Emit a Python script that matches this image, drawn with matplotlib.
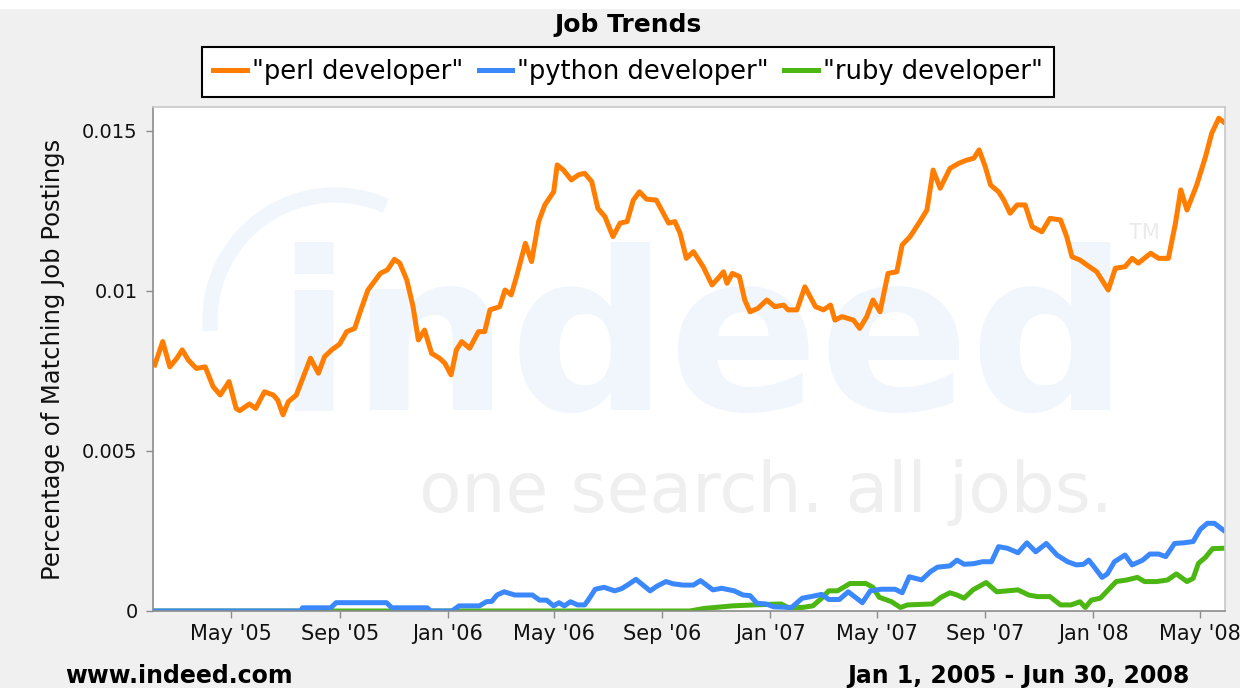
import numpy as np
import pandas as pd
import matplotlib
matplotlib.use('Agg')
import matplotlib.pyplot as plt
import matplotlib.dates as mdates
from matplotlib.patches import Arc, Rectangle
from matplotlib.transforms import IdentityTransform

# x values are days counted from Jan 1, 2005
start = pd.Timestamp('2005-01-01')
view_days = [32, 1244]

perl_days = [34, 43, 51, 59, 65, 72, 81, 91, 100, 108, 118, 126, 130, 141, 148, 158, 168, 173, 179, 185,
             194, 202, 210, 219, 226, 234, 243, 251, 260, 267, 275, 289, 297, 305, 311, 319, 326, 332,
             339, 347, 356, 362, 369, 375, 381, 390, 400, 407, 413, 424, 430, 437, 443, 453, 460, 468,
             475, 485, 489, 496, 505, 513, 520, 528, 535, 543, 552, 560, 568, 575, 582, 590, 601, 609,
             615, 622, 628, 635, 643, 654, 664, 671, 677, 681, 687, 695, 701, 707, 716, 726, 735, 745,
             750, 760, 769, 781, 790, 798, 803, 811, 824, 831, 839, 846, 854, 863, 873, 879, 888, 899,
             907, 914, 922, 933, 943, 952, 960, 966, 973, 979, 988, 994, 1001, 1009, 1018, 1026, 1037,
             1046, 1058, 1065, 1071, 1080, 1088, 1099, 1112, 1120, 1131, 1139, 1146, 1160, 1169, 1180,
             1188, 1194, 1201, 1212, 1222, 1229, 1237, 1242]
perl_vals = [0.00769, 0.00842, 0.00763, 0.00790, 0.00816, 0.00784, 0.00758, 0.00763, 0.00701, 0.00675,
             0.00717, 0.00633, 0.00626, 0.00647, 0.00633, 0.00685, 0.00675, 0.00659, 0.00613, 0.00654,
             0.00675, 0.00732, 0.00790, 0.00743, 0.00795, 0.00816, 0.00834, 0.00873, 0.00883, 0.00941,
             0.01003, 0.01055, 0.01066, 0.01099, 0.01087, 0.01034, 0.00951, 0.00847,
             0.00878, 0.00805, 0.00790, 0.00774, 0.00738, 0.00816, 0.00842, 0.00821, 0.00873, 0.00873,
             0.00941, 0.00951, 0.01003, 0.00988, 0.01045, 0.01149, 0.01092, 0.01217, 0.01269, 0.01310,
             0.01394, 0.01378, 0.01347, 0.01363, 0.01368, 0.01342, 0.01258, 0.01232, 0.01170, 0.01212,
             0.01217, 0.01284, 0.01310, 0.01287, 0.01284, 0.01243, 0.01212, 0.01217, 0.01180, 0.01102,
             0.01123, 0.01076, 0.01019, 0.01040, 0.01060, 0.01024, 0.01055, 0.01045, 0.00972, 0.00935,
             0.00946, 0.00972, 0.00951, 0.00956, 0.00941, 0.00941, 0.01013, 0.00951, 0.00941, 0.00956,
             0.00909, 0.00920, 0.00909, 0.00883, 0.00920, 0.00972, 0.00935, 0.01055, 0.01060, 0.01144,
             0.01170, 0.01217, 0.01253, 0.01378, 0.01321, 0.01383, 0.01399,
             0.01409, 0.01415, 0.01441, 0.01388, 0.01331, 0.01310, 0.01284, 0.01243, 0.01269, 0.01269,
             0.01201, 0.01185, 0.01227, 0.01222, 0.01170, 0.01107, 0.01097, 0.01081, 0.01060, 0.01003,
             0.01071, 0.01076, 0.01102, 0.01087, 0.01118, 0.01102, 0.01102, 0.01212, 0.01316, 0.01253,
             0.01331, 0.01420, 0.01493, 0.01540, 0.01529]

python_days = [32, 199, 201, 233, 239, 296, 302, 342, 346, 370, 378, 401, 409, 415, 421, 429, 441, 461,
               469, 477, 485, 491, 497, 504, 512, 520, 524, 532, 542, 554, 562, 570, 578, 586, 594, 602,
               612, 620, 631, 643, 651, 665, 675, 689, 699, 707, 715, 725, 734, 754, 766, 776, 788, 796,
               808, 818, 826, 834, 843, 855, 871, 879, 887, 901, 911, 919, 933, 941, 949, 960, 970, 980,
               988, 998, 1010, 1020, 1030, 1042, 1054, 1066, 1076, 1084, 1090, 1096, 1105, 1111, 1119,
               1131, 1139, 1151, 1159, 1169, 1177, 1187, 1197, 1208, 1216, 1224, 1232, 1242]
python_vals = [0, 0, 0.0001, 0.0001, 0.00026, 0.00026, 0.0001, 0.0001, 0, 0,
               0.00016, 0.00016, 0.00029, 0.0003, 0.0005, 0.0006, 0.0005, 0.0005, 0.00034, 0.00034,
               0.00016, 0.00026, 0.00016, 0.00029, 0.00019, 0.00019, 0.00034, 0.00068, 0.00074, 0.00063,
               0.0007, 0.00084, 0.00099, 0.00081, 0.00063, 0.00078, 0.00092, 0.00085, 0.00081, 0.00081,
               0.00095, 0.00066, 0.00071, 0.00063, 0.0005, 0.00048, 0.00024, 0.00022, 0.00013, 0.00011,
               0.0004, 0.00045, 0.00052, 0.00036, 0.00036, 0.0006, 0.00043, 0.00026, 0.00063, 0.00068,
               0.00068, 0.00057, 0.00107, 0.00097, 0.00123, 0.00137, 0.00141, 0.00159, 0.00146, 0.00148,
               0.00154, 0.00154, 0.00201, 0.00196, 0.00182, 0.00213, 0.00185, 0.00211, 0.00175, 0.00154,
               0.00144, 0.00146, 0.00159, 0.00138, 0.00105, 0.00116, 0.00154, 0.00175, 0.00144, 0.00159,
               0.00178, 0.00178, 0.0017, 0.00211, 0.00213, 0.00217, 0.00255, 0.00274, 0.00274, 0.00253]

ruby_days = [32, 639, 655, 687, 711, 742, 750, 766, 778, 788, 796, 806, 820, 838, 846, 853, 867, 877,
             885, 913, 923, 933, 941, 949, 959, 974, 986, 998, 1010, 1022, 1032, 1046, 1058, 1070, 1080,
             1086, 1093, 1103, 1111, 1121, 1133, 1145, 1153, 1167, 1179, 1189, 1201, 1208, 1214, 1222,
             1230, 1242]
ruby_vals = [0, 0, 0.00008, 0.00016, 0.00019, 0.00022, 0.00011, 0.00011, 0.00016, 0.0004,
             0.00063, 0.00063, 0.00086, 0.00086, 0.00074, 0.00043, 0.00029, 0.00011, 0.00019, 0.00022,
             0.00043, 0.00057, 0.0005, 0.0004, 0.00066, 0.00089, 0.0006, 0.00063, 0.00066, 0.0005,
             0.00045, 0.00045, 0.00019, 0.00019, 0.00029, 0.00011, 0.00034, 0.0004, 0.00063, 0.00092,
             0.00097, 0.00105, 0.00092, 0.00092, 0.00097, 0.00116, 0.00092, 0.00102, 0.00149, 0.00168,
             0.00195, 0.00196]

labels = ['"perl developer"', '"python developer"', '"ruby developer"']
colors = ['#ff7d00', '#3a88fb', '#4cb712']
y_ticks = [0, 0.005, 0.01, 0.015]


def to_dates(days):
    return start + pd.to_timedelta(days, unit='D')


W, H = 1240, 688
fig = plt.figure(figsize=(W / 100, H / 100), dpi=100, facecolor='#f0f0f0')
fig.add_artist(Rectangle((0, 1 - 8 / H), 1, 8 / H, transform=fig.transFigure,
                         color='white', zorder=-5))
ax = fig.add_axes([153 / W, 1 - 611 / H, 1072 / W, 504 / H])
ax.set_facecolor('white')

# faint indeed watermark
ax.text(0.512, 0.399, 'indeed', transform=ax.transAxes, ha='center', va='baseline',
        fontsize=160, fontweight='bold', color='#f1f6fd', zorder=0.3)
ax.text(0.572, 0.196, 'one search. all jobs.', transform=ax.transAxes, ha='center',
        va='baseline', fontsize=50, color='#efefef', zorder=0.3)
ax.text(0.925, 0.75, 'TM', transform=ax.transAxes, ha='center', va='center',
        fontsize=15, color='#ebebeb', zorder=0.3)
ax.add_patch(Arc((335, H - 320), 250, 250, theta1=66, theta2=185, transform=IdentityTransform(),
                 color='#f1f6fd', lw=11, zorder=0.4))

l3, = ax.plot(to_dates(ruby_days), ruby_vals, color=colors[2], lw=3.6, solid_joinstyle='round')
l2, = ax.plot(to_dates(python_days), python_vals, color=colors[1], lw=3.6, solid_joinstyle='round')
l1, = ax.plot(to_dates(perl_days), perl_vals, color=colors[0], lw=3.6, solid_joinstyle='round')

ax.set_xlim(to_dates(view_days[0]), to_dates(view_days[1]))
ax.set_ylim(0, 0.01575)
ax.set_yticks(y_ticks)
ax.set_yticklabels([f'{v:g}' for v in y_ticks])
ax.xaxis.set_major_locator(mdates.MonthLocator(bymonth=[1, 5, 9]))
ax.xaxis.set_major_formatter(mdates.DateFormatter("%b '%y"))

for side in ['left', 'bottom']:
    ax.spines[side].set_color('#8c8c8c')
    ax.spines[side].set_linewidth(1.2)
for side in ['top', 'right']:
    ax.spines[side].set_color('#c8c8c8')
    ax.spines[side].set_linewidth(1.2)
ax.tick_params(axis='both', color='#8c8c8c', length=5, width=1, labelcolor='#111111')
ax.tick_params(axis='y', labelsize=14, pad=6)
ax.tick_params(axis='x', labelsize=15, pad=4)
ax.set_ylabel('Percentage of Matching Job Postings', fontsize=17.5, color='#111111', labelpad=12)

fig.text(628 / W, 1 - 25 / H, 'Job Trends', ha='center', va='center', fontsize=18,
         fontweight='bold', color='black')
leg = fig.legend([l1, l2, l3], labels, loc='center', bbox_to_anchor=(628 / W, 1 - 72 / H), ncol=3,
                 fontsize=18.5, frameon=True, fancybox=False, edgecolor='black', framealpha=1,
                 handlelength=1.3, handletextpad=0.2, columnspacing=0.6, borderpad=0.45)
leg.get_frame().set_linewidth(1.5)

fig.text(65 / W, 1 - 676 / H, 'www.indeed.com', ha='left', va='center', fontsize=17,
         fontweight='bold', color='black')
fig.text(1190 / W, 1 - 676 / H, 'Jan 1, 2005 - Jun 30, 2008', ha='right', va='center',
         fontsize=17, fontweight='bold', color='black')

fig.savefig('out.png', dpi=100, facecolor=fig.get_facecolor())
